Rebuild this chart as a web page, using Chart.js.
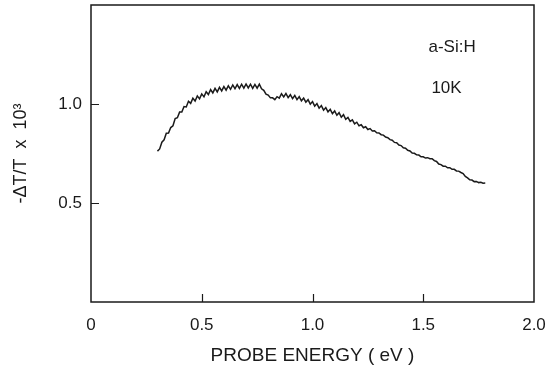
<!DOCTYPE html>
<html>
<head>
<meta charset="utf-8">
<script src="https://cdn.jsdelivr.net/npm/chart.js@4.4.1/dist/chart.umd.min.js"></script>
<style>
  html, body { margin: 0; padding: 0; background: #fff; }
  #wrap { width: 546px; height: 373px; }
</style>
</head>
<body>
<div id="wrap"><canvas id="grafico" width="546" height="373"></canvas></div>
<script>
// Probe energy (eV), every 0.01 eV
const energia = [
  0.30, 0.31, 0.32, 0.33, 0.34, 0.35, 0.36, 0.37, 0.38, 0.39,
  0.40, 0.41, 0.42, 0.43, 0.44, 0.45, 0.46, 0.47, 0.48, 0.49,
  0.50, 0.51, 0.52, 0.53, 0.54, 0.55, 0.56, 0.57, 0.58, 0.59,
  0.60, 0.61, 0.62, 0.63, 0.64, 0.65, 0.66, 0.67, 0.68, 0.69,
  0.70, 0.71, 0.72, 0.73, 0.74, 0.75, 0.76, 0.77, 0.78, 0.79,
  0.80, 0.81, 0.82, 0.83, 0.84, 0.85, 0.86, 0.87, 0.88, 0.89,
  0.90, 0.91, 0.92, 0.93, 0.94, 0.95, 0.96, 0.97, 0.98, 0.99,
  1.00, 1.01, 1.02, 1.03, 1.04, 1.05, 1.06, 1.07, 1.08, 1.09,
  1.10, 1.11, 1.12, 1.13, 1.14, 1.15, 1.16, 1.17, 1.18, 1.19,
  1.20, 1.21, 1.22, 1.23, 1.24, 1.25, 1.26, 1.27, 1.28, 1.29,
  1.30, 1.31, 1.32, 1.33, 1.34, 1.35, 1.36, 1.37, 1.38, 1.39,
  1.40, 1.41, 1.42, 1.43, 1.44, 1.45, 1.46, 1.47, 1.48, 1.49,
  1.50, 1.51, 1.52, 1.53, 1.54, 1.55, 1.56, 1.57, 1.58, 1.59,
  1.60, 1.61, 1.62, 1.63, 1.64, 1.65, 1.66, 1.67, 1.68, 1.69,
  1.70, 1.71, 1.72, 1.73, 1.74, 1.75, 1.76, 1.77, 1.78
];

// -dT/T x 10^3 (with the interference ripple)
const senal = [
  0.762, 0.773, 0.807, 0.819, 0.852, 0.853, 0.881, 0.890, 0.927, 0.931,
  0.959, 0.959, 0.987, 0.985, 1.014, 1.003, 1.029, 1.015, 1.041, 1.026,
  1.051, 1.036, 1.062, 1.048, 1.073, 1.056, 1.079, 1.061, 1.084, 1.066,
  1.088, 1.070, 1.092, 1.074, 1.096, 1.077, 1.098, 1.079, 1.100, 1.080,
  1.101, 1.081, 1.100, 1.079, 1.099, 1.080, 1.100, 1.077, 1.069, 1.050,
  1.045, 1.031, 1.031, 1.022, 1.037, 1.030, 1.052, 1.036, 1.053, 1.032,
  1.047, 1.027, 1.043, 1.022, 1.037, 1.016, 1.030, 1.009, 1.022, 0.999,
  1.012, 0.989, 1.002, 0.979, 0.992, 0.969, 0.982, 0.960, 0.973, 0.951,
  0.965, 0.943, 0.956, 0.933, 0.946, 0.923, 0.932, 0.912, 0.920, 0.900,
  0.908, 0.890, 0.895, 0.880, 0.885, 0.871, 0.876, 0.864, 0.865, 0.855,
  0.854, 0.845, 0.843, 0.833, 0.830, 0.820, 0.817, 0.806, 0.804, 0.793,
  0.790, 0.779, 0.777, 0.766, 0.763, 0.752, 0.751, 0.743, 0.742, 0.733,
  0.733, 0.727, 0.729, 0.724, 0.724, 0.714, 0.710, 0.697, 0.694, 0.686,
  0.686, 0.678, 0.678, 0.670, 0.670, 0.662, 0.661, 0.654, 0.649, 0.634,
  0.627, 0.617, 0.616, 0.608, 0.609, 0.603, 0.605, 0.600, 0.601
];

// Tick marks drawn inward
const ticksX = [0.5, 1.0, 1.5];
const ticksY = [0.5, 1.0];

// Labels in the upper right
const etiquetas = [
  { texto: "a-Si:H", x: 1.63, y: 1.285 },
  { texto: "10K", x: 1.605, y: 1.08 }
];

const tinta = "#1a1a1a";
const fuente = "'Liberation Sans', Arial, sans-serif";

// Frame, inward ticks and the in-plot labels
const marco = {
  id: "marco",
  afterDraw(chart) {
    const { ctx, chartArea: a, scales } = chart;
    ctx.save();
    ctx.strokeStyle = tinta;
    ctx.lineWidth = 1.5;
    ctx.strokeRect(a.left, a.top, a.right - a.left, a.bottom - a.top);

    ctx.lineWidth = 1.2;
    ctx.beginPath();
    ticksX.forEach((v) => {
      const px = Math.round(scales.x.getPixelForValue(v)) + 0.5;
      ctx.moveTo(px, a.bottom);
      ctx.lineTo(px, a.bottom - 8);
    });
    ticksY.forEach((v) => {
      const py = Math.round(scales.y.getPixelForValue(v)) + 0.5;
      ctx.moveTo(a.left, py);
      ctx.lineTo(a.left + 8, py);
    });
    ctx.stroke();

    ctx.fillStyle = tinta;
    ctx.font = "17px " + fuente;
    ctx.textAlign = "center";
    ctx.textBaseline = "middle";
    etiquetas.forEach(({ texto, x, y }) => {
      ctx.fillText(texto, scales.x.getPixelForValue(x), scales.y.getPixelForValue(y));
    });
    ctx.restore();
  }
};

const ctx = document.getElementById("grafico").getContext("2d");

new Chart(ctx, {
  type: "line",
  data: {
    datasets: [
      {
        data: energia.map((e, i) => ({ x: e, y: senal[i] })),
        borderColor: tinta,
        borderWidth: 1.5,
        pointRadius: 0,
        tension: 0,
        fill: false
      }
    ]
  },
  options: {
    responsive: false,
    animation: false,
    layout: { padding: { left: 0, right: 12, top: 5, bottom: 0 } },
    plugins: {
      legend: { display: false },
      tooltip: { enabled: false }
    },
    scales: {
      x: {
        type: "linear",
        min: 0,
        max: 2.0,
        border: { display: false },
        grid: { display: false, drawTicks: false },
        afterFit: (s) => {
          s.height = 71;
          s.paddingLeft = 0;
          s.paddingRight = 0;
        },
        ticks: {
          stepSize: 0.5,
          padding: 13,
          color: tinta,
          font: { family: fuente, size: 17 },
          callback: (v) => (v === 0 ? "0" : v.toFixed(1))
        },
        title: {
          display: true,
          text: "PROBE ENERGY ( eV )",
          color: tinta,
          font: { family: fuente, size: 19 },
          padding: { top: 4, bottom: 6 }
        }
      },
      y: {
        type: "linear",
        min: 0,
        max: 1.5,
        border: { display: false },
        grid: { display: false, drawTicks: false },
        afterFit: (s) => {
          s.width = 91;
          s.paddingTop = 0;
          s.paddingBottom = 0;
        },
        ticks: {
          stepSize: 0.5,
          padding: 9,
          color: tinta,
          font: { family: fuente, size: 17 },
          callback: (v) => (v === 0.5 || v === 1 ? v.toFixed(1) : "")
        },
        title: {
          display: true,
          text: "-\u0394T/T  x  10\u00B3",
          color: tinta,
          font: { family: fuente, size: 18 },
          padding: { top: 10, bottom: 0 }
        }
      }
    }
  },
  plugins: [marco]
});
</script>
</body>
</html>
